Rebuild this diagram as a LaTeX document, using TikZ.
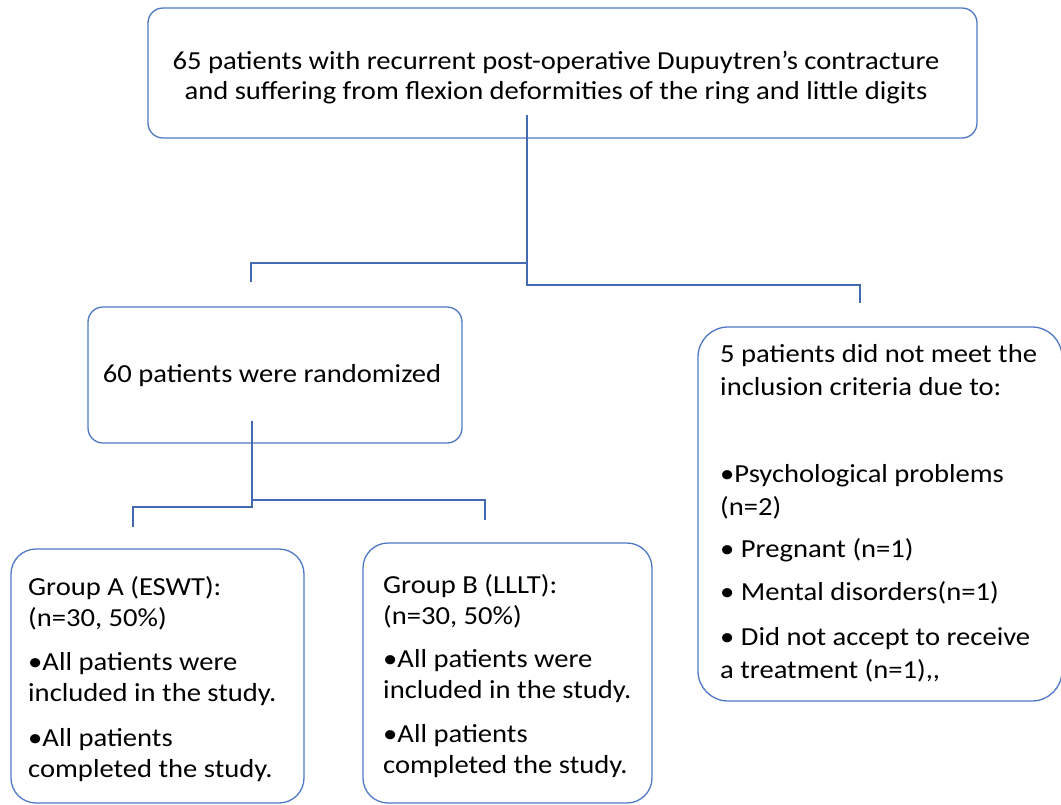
\documentclass[tikz,border=0pt]{standalone}
\usepackage{fontspec}
\setmainfont{Carlito}[FakeStretch=1.1]
\definecolor{boxblue}{RGB}{79,120,196}
\definecolor{lineblue}{RGB}{68,106,180}
\begin{document}
\begin{tikzpicture}[x=1pt,y=-1pt,
  box/.style={draw=boxblue, line width=1.3pt, rounded corners=15pt, inner sep=0pt},
  conn/.style={draw=lineblue, line width=2pt},
  txt/.style={font=\fontsize{26}{31}\selectfont, inner sep=0pt, align=left, text=black}]
\useasboundingbox (0,0) rectangle (1061,804);
% boxes
\node[box, minimum width=829pt, minimum height=130pt] (top) at (562.5,73) {};
\node[txt, align=center, font=\fontsize{26}{30}\selectfont] (toptext) at (556,78) {65 patients with recurrent post-operative Dupuytren’s contracture\\and suffering from flexion deformities of the ring and little digits};
\node[box, minimum width=374pt, minimum height=136pt] (rand) at (275,375) {};
\node[txt] (randtext) at (272,376) {60 patients were randomized};
\node[box, rounded corners=30pt, minimum width=364pt, minimum height=374pt] (excl) at (880,514) {};
\node[txt, anchor=north west, font=\fontsize{26}{33}\selectfont] (excltext) at (720,344) {5 patients did not meet the\\inclusion criteria due to:\\[54pt]•Psychological problems\\(n=2)\\[9pt]• Pregnant (n=1)\\[10pt]• Mental disorders(n=1)\\[12pt]• Did not accept to receive\\a treatment (n=1),{},};
\node[box, rounded corners=25pt, minimum width=293pt, minimum height=254pt] (ga) at (157.5,676) {};
\node[txt, anchor=north west] (gatext) at (28,576) {Group A (ESWT):\\(n=30, 50\%)\\[13pt]•All patients were\\included in the study.\\[14pt]•All patients\\completed the study.};
\node[box, rounded corners=25pt, minimum width=289pt, minimum height=260pt] (gb) at (507.5,673) {};
\node[txt, anchor=north west] (gbtext) at (383,574) {Group B (LLLT):\\(n=30, 50\%)\\[12pt]•All patients were\\included in the study.\\[13pt]•All patients\\completed the study.};
% connector points
\coordinate (t0) at (527,115);
\coordinate (tj) at (527,263);
\coordinate (tl) at (251,263);
\coordinate (tld) at (251,282);
\coordinate (tb) at (527,285);
\coordinate (tr) at (860,285);
\coordinate (trd) at (860,303);
\coordinate (r0) at (252,421);
\coordinate (rj) at (252,500);
\coordinate (rb) at (252,507);
\coordinate (rl) at (133,507);
\coordinate (rld) at (133,527);
\coordinate (rr) at (485,500);
\coordinate (rrd) at (485,520);
\draw[conn] (t0) -- (tb) -- (tr) -- (trd);
\draw[conn] (tj) -- (tl) -- (tld);
\draw[conn] (r0) -- (rb) -- (rl) -- (rld);
\draw[conn] (rj) -- (rr) -- (rrd);
\end{tikzpicture}
\end{document}
